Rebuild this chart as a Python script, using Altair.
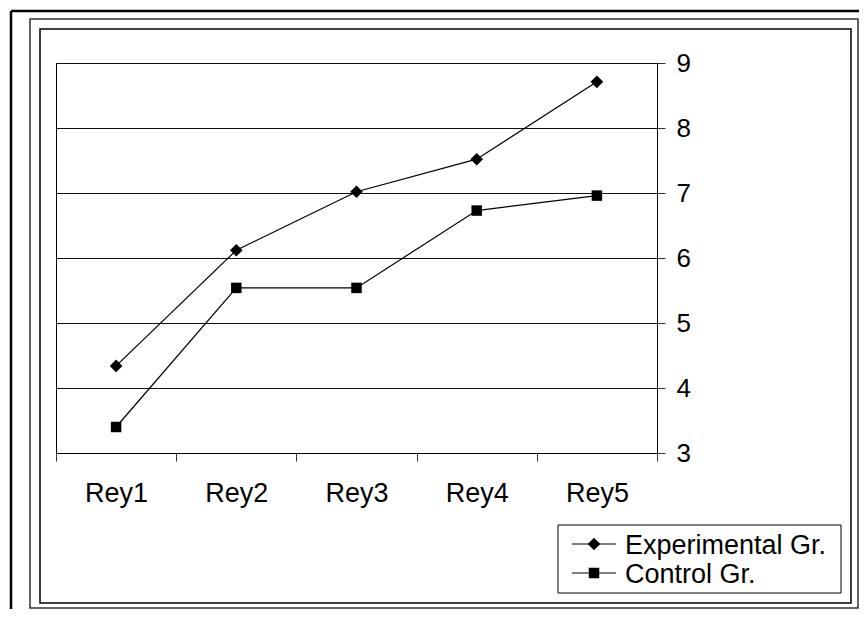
import altair as alt
import pandas as pd

categories = ["Rey1", "Rey2", "Rey3", "Rey4", "Rey5"]
experimental = [4.34, 6.12, 7.02, 7.52, 8.71]
control = [3.40, 5.54, 5.54, 6.73, 6.96]
series_names = ["Experimental Gr.", "Control Gr."]
y_ticks = [3, 4, 5, 6, 7, 8, 9]

FONT = "Liberation Sans, Arial"
FS = 27

rows = []
for c, e, k in zip(categories, experimental, control):
    rows.append({"test": c, "score": e, "series": series_names[0]})
    rows.append({"test": c, "score": k, "series": series_names[1]})
df = pd.DataFrame(rows)
legend_df = pd.DataFrame({"series": series_names})
one = pd.DataFrame({"k": [0]})

x_enc = alt.X(
    "test:N",
    sort=categories,
    bandPosition=0.5,
    scale=alt.Scale(type="band", domain=categories, paddingInner=0, paddingOuter=0),
    axis=alt.Axis(
        title=None, orient="bottom", grid=False, tickBand="extent",
        tickSize=8, tickColor="#333", domainColor="black", domainWidth=1,
        labelFont=FONT, labelFontSize=FS, labelColor="black", labelPadding=19,
        labelAngle=0,
    ),
)
y_enc = alt.Y(
    "score:Q",
    scale=alt.Scale(domain=[3, 9], nice=False, zero=False),
    axis=alt.Axis(
        title=None, orient="right", values=y_ticks, grid=True, gridColor="#111",
        gridWidth=1, tickSize=8, tickColor="#333", domainColor="black",
        labelFont=FONT, labelFontSize=26, labelColor="black", labelPadding=11,
        format="d",
    ),
)

base = alt.Chart(df)
lines = base.mark_line(color="black", strokeWidth=1.2).encode(
    x=x_enc, y=y_enc, detail="series:N"
)
exp_pts = base.transform_filter(alt.datum.series == series_names[0]).mark_point(
    shape="diamond", size=160, filled=True, color="black", opacity=1
).encode(x=x_enc, y=y_enc)
ctl_pts = base.transform_filter(alt.datum.series == series_names[1]).mark_point(
    shape="square", size=110, filled=True, color="black", opacity=1
).encode(x=x_enc, y=y_enc)

# frame decorations (pixel positions relative to plot origin)
d = alt.Chart(one)
thick_top = d.mark_rule(color="black", strokeWidth=2.5).encode(
    x=alt.value(-45), x2=alt.value(803), y=alt.value(-52))
thick_left = d.mark_rule(color="black", strokeWidth=2.5).encode(
    x=alt.value(-45), y=alt.value(-52), y2=alt.value(546))
frame2 = d.mark_rect(filled=False, stroke="#333", strokeWidth=1.5).encode(
    x=alt.value(-26), x2=alt.value(802), y=alt.value(-44), y2=alt.value(545))
frame3 = d.mark_rect(filled=False, stroke="black", strokeWidth=1.5).encode(
    x=alt.value(-16), x2=alt.value(795), y=alt.value(-34), y2=alt.value(540))
legend_box = d.mark_rect(filled=False, stroke="black", strokeWidth=1).encode(
    x=alt.value(502), x2=alt.value(785), y=alt.value(462), y2=alt.value(530))

lg = alt.Chart(legend_df)
leg_layers = []
for name, shape, size, yy in [(series_names[0], "diamond", 160, 481),
                              (series_names[1], "square", 110, 510)]:
    f = lg.transform_filter(alt.datum.series == name)
    leg_layers.append(f.mark_rule(color="black", strokeWidth=1.2).encode(
        x=alt.value(516), x2=alt.value(560), y=alt.value(yy)))
    leg_layers.append(f.mark_point(shape=shape, size=size, filled=True,
                                   color="black", opacity=1).encode(
        x=alt.value(538), y=alt.value(yy)))
    leg_layers.append(f.mark_text(align="left", baseline="middle", font=FONT,
                                  fontSize=FS, color="black").encode(
        x=alt.value(569), y=alt.value(yy + 1.5), text="series:N"))

chart = alt.layer(
    lines, exp_pts, ctl_pts, thick_top, thick_left, frame2, frame3, legend_box,
    *leg_layers
).properties(
    width=601, height=390,
    autosize=alt.AutoSizeParams(type="none"),
    padding={"left": 48, "top": 55, "right": 202, "bottom": 156},
    background="white",
).configure_view(stroke="black", strokeWidth=1)

chart.save("out.html", embed_options={"renderer": "svg", "actions": False})
